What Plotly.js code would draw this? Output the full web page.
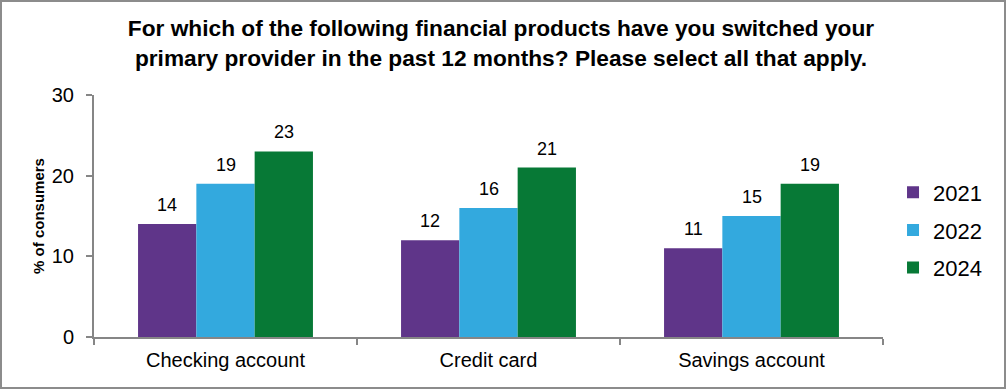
<!DOCTYPE html>
<html>
<head>
<meta charset="utf-8">
<script src="https://cdn.plot.ly/plotly-3.0.1.min.js"></script>
<style>
html,body{margin:0;padding:0;background:#fff;}
#wrap{position:relative;width:1006px;height:389px;}
#chart{width:1006px;height:389px;}
#frame{position:absolute;left:0;top:0;width:1006px;height:389px;box-sizing:border-box;border:2px solid #8c8c8c;pointer-events:none;}
</style>
</head>
<body>
<div id="wrap"><div id="chart"></div><div id="frame"></div></div>
<script>
const categories = ["Checking account", "Credit card", "Savings account"];
const seriesNames = ["2021", "2022", "2024"];
const values2021 = [14, 12, 11];
const values2022 = [19, 16, 15];
const values2024 = [23, 21, 19];
const seriesColors = ["#5F3589", "#33A9DE", "#077936"];
const yTicks = [0, 10, 20, 30];

const FONT = "Liberation Sans, Arial, sans-serif";
const allValues = [values2021, values2022, values2024];
const bargap = 0.335;
const barW = (1 - bargap) / allValues.length;

const traces = allValues.map((vals, i) => ({
  type: "bar",
  name: seriesNames[i],
  legendgroup: seriesNames[i],
  x: categories,
  y: vals,
  marker: {color: seriesColors[i], line: {width: 0}},
  hoverinfo: "x+y+name"
}));

const annotations = [];
allValues.forEach((vals, i) => {
  const off = (i - (allValues.length - 1) / 2) * barW;
  vals.forEach((v, j) => {
    annotations.push({
      x: j + off, y: v, xref: "x", yref: "y",
      text: String(v), showarrow: false,
      yanchor: "bottom", yshift: 7,
      font: {family: FONT, size: 18, color: "#000"}
    });
  });
});

const layout = {
  width: 1006, height: 389,
  paper_bgcolor: "#fff", plot_bgcolor: "#fff",
  margin: {l: 94, r: 123, t: 95, b: 52, pad: 0},
  font: {family: FONT, color: "#000"},
  title: {
    text: "<b>For which of the following financial products have you switched your<br>primary provider in the past 12 months? Please select all that apply.</b>",
    font: {family: FONT, size: 22.7, color: "#000"},
    x: 0.498, xanchor: "center", xref: "container",
    y: 0.907, yanchor: "middle", yref: "container"
  },
  barmode: "group",
  bargap: bargap,
  bargroupgap: 0,
  showlegend: true,
  legend: {
    x: 1.0127, xanchor: "left", y: 0.442, yanchor: "middle",
    font: {family: FONT, size: 22, color: "#000"},
    traceorder: "grouped", tracegroupgap: 6,
    bgcolor: "rgba(0,0,0,0)"
  },
  xaxis: {
    type: "category",
    tickfont: {family: FONT, size: 20, color: "#000"},
    showline: true, linecolor: "#868686", linewidth: 2,
    ticks: "outside", tickson: "boundaries", ticklen: 6, tickcolor: "#868686", tickwidth: 2,
    showgrid: false, zeroline: false,
    ticklabelstandoff: 4
  },
  yaxis: {
    range: [0, 30],
    tickvals: yTicks,
    ticktext: yTicks.map(String),
    tickfont: {family: FONT, size: 20, color: "#000"},
    showline: true, linecolor: "#868686", linewidth: 2,
    ticks: "outside", ticklen: 6, tickcolor: "#868686", tickwidth: 2,
    ticklabelstandoff: 8,
    showgrid: false, zeroline: false,
    title: {text: "<b>% of consumers</b>", font: {family: FONT, size: 15, color: "#000"}, standoff: 4}
  },
  annotations: annotations
};

Plotly.newPlot("chart", traces, layout, {displayModeBar: false, staticPlot: true});
</script>
</body>
</html>
